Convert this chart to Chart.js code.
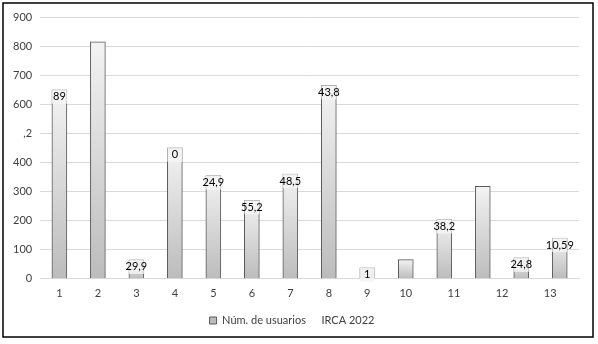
<!DOCTYPE html>
<html><head><meta charset="utf-8">
<script src="https://cdn.jsdelivr.net/npm/chart.js@4/dist/chart.umd.min.js"></script>
<style>html,body{margin:0;padding:0;background:#fff}#wrap{width:598px;height:344px}</style>
</head><body><div id="wrap"><canvas id="c" width="598" height="344"></canvas></div>
<script>
// ---- data ----
const barIds = [1,2,3,4,5,6,7,8,9,10,11,12,13,14];
const usuarios = [650,815,65,450,355,270,360,665,38,66,204,318,72,140];
const irca = [89.2,null,29.9,0,24.9,55.2,48.5,43.8,1,null,38.2,null,24.8,10.59];
const ircaLabels = ["89","","29,9","0","24,9","55,2","48,5","43,8","1","","38,2","","24,8","10,59"];
const xTickLabels = ["1","2","3","4","5","6","7","8","9","10","11","12","13"];
const yTickValues = [0,100,200,300,400,500,600,700,800,900];
const yTickText = ["0","100","200","300","400",",2","600","700","800","900"];
const seriesNames = ["Núm. de usuarios","IRCA 2022"];

// x tick positions: first labels sit under bars, the last three spread over the last bars
const aligned = xTickLabels.length - 3;
const xTickPos = xTickLabels.map((t,i)=> i < aligned ? barIds[i] : aligned + (i - aligned + 1) * 1.25);

const FONT = "Lato, 'Liberation Sans', sans-serif";

function barGradient(ctx){
  const ch = ctx.chart, ys = ch.scales && ch.scales.y;
  if (ctx.type !== 'data' || !ys || !ctx.parsed) return '#d0d0d0';
  const top = ys.getPixelForValue(ctx.parsed.y), base = ys.getPixelForValue(0);
  if (!isFinite(top) || !isFinite(base) || top === base) return '#d0d0d0';
  const g = ch.ctx.createLinearGradient(0, top, 0, base);
  g.addColorStop(0, '#f3f3f3');
  g.addColorStop(1, '#bcbcbc');
  return g;
}

const labelPlugin = {
  id: 'labels',
  afterDatasetsDraw(chart){
    const meta = chart.getDatasetMeta(0);
    const c = chart.ctx;
    c.save();
    c.font = "11px " + FONT;
    c.textAlign = 'center';
    c.textBaseline = 'middle';
    meta.data.forEach((el, i) => {
      const t = ircaLabels[i];
      if (!t) return;
      c.fillStyle = 'rgba(245,245,245,0.85)';
      c.fillRect(el.x - 7.5, el.y, 15, 14);
      c.fillStyle = '#000';
      c.fillText(t, el.x, el.y + 7);
    });
    c.restore();
  }
};

const borderPlugin = {
  id: 'outer',
  afterDraw(chart){
    const c = chart.ctx;
    c.save();
    c.strokeStyle = '#000';
    c.lineWidth = 1.5;
    c.strokeRect(3, 3, 590, 334);
    c.restore();
  }
};

new Chart(document.getElementById('c'), {
  type: 'bar',
  data: {
    datasets: [
      {
        label: seriesNames[0],
        data: barIds.map((x,i)=>({x:x, y:usuarios[i]})),
        backgroundColor: barGradient,
        borderColor: '#5a5a5a',
        borderWidth: 1,
        barThickness: 15
      },
      {
        type: 'line',
        label: seriesNames[1],
        data: barIds.map((x,i)=>({x:x, y:irca[i]})),
        yAxisID: 'y2',
        showLine: false,
        pointRadius: 0,
        backgroundColor: 'rgba(0,0,0,0)',
        borderColor: 'rgba(0,0,0,0)',
        borderWidth: 0
      }
    ]
  },
  options: {
    responsive: false,
    devicePixelRatio: 1,
    animation: false,
    layout: { padding: { left: 5, right: 19, top: 17, bottom: 8 } },
    plugins: {
      legend: {
        position: 'bottom',
        labels: {
          font: { family: FONT, size: 11 },
          color: '#404040',
          boxWidth: 7,
          boxHeight: 7,
          padding: 3
        }
      },
      tooltip: { enabled: false }
    },
    scales: {
      x: {
        type: 'linear',
        offset: false,
        min: 0.5,
        max: 14.5,
        grid: { display: false, drawTicks: false, offset: false },
        border: { display: true, color: '#d9d9d9' },
        afterBuildTicks: (s) => { s.ticks = xTickPos.map(v => ({ value: v })); },
        afterFit: (s) => { s.height += 4; },
        ticks: {
          autoSkip: false,
          maxRotation: 0,
          padding: 8,
          color: '#404040',
          font: { family: FONT, size: 11 },
          callback: (v) => { const k = xTickPos.indexOf(v); return k >= 0 ? xTickLabels[k] : ''; }
        }
      },
      y: {
        min: 0,
        max: 900,
        grid: { color: '#d9d9d9', drawTicks: false },
        border: { display: false },
        afterBuildTicks: (s) => { s.ticks = yTickValues.map(v => ({ value: v })); },
        ticks: {
          padding: 8,
          color: '#404040',
          font: { family: FONT, size: 11 },
          callback: (v) => { const k = yTickValues.indexOf(v); return k >= 0 ? yTickText[k] : ''; }
        }
      },
      y2: { display: false, min: 0, max: 100 }
    }
  },
  plugins: [labelPlugin, borderPlugin]
});
</script>
</body></html>
